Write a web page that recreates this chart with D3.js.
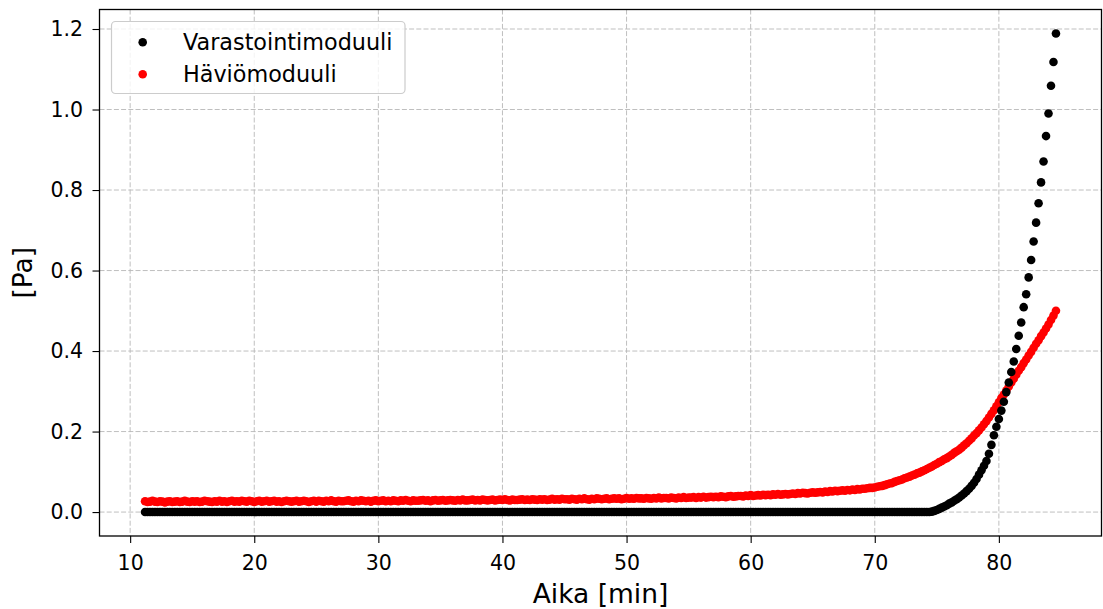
<!DOCTYPE html>
<html lang="fi">
<head>
<meta charset="UTF-8">
<title>Varastointi- ja häviömoduuli</title>
<script src="https://d3js.org/d3.v7.min.js"></script>
<style>
  * { margin: 0; padding: 0; }
  body { background: #ffffff; }
  svg { display: block; font-family: "DejaVu Sans", sans-serif; }
</style>
</head>
<body>
<div class="chart"></div>
<script>
// measurement times [min], one sample every 0.2 min
var time = [
  11.2, 11.4, 11.6, 11.8, 12.0, 12.2, 12.4, 12.6, 12.8, 13.0,
  13.2, 13.4, 13.6, 13.8, 14.0, 14.2, 14.4, 14.6, 14.8, 15.0,
  15.2, 15.4, 15.6, 15.8, 16.0, 16.2, 16.4, 16.6, 16.8, 17.0,
  17.2, 17.4, 17.6, 17.8, 18.0, 18.2, 18.4, 18.6, 18.8, 19.0,
  19.2, 19.4, 19.6, 19.8, 20.0, 20.2, 20.4, 20.6, 20.8, 21.0,
  21.2, 21.4, 21.6, 21.8, 22.0, 22.2, 22.4, 22.6, 22.8, 23.0,
  23.2, 23.4, 23.6, 23.8, 24.0, 24.2, 24.4, 24.6, 24.8, 25.0,
  25.2, 25.4, 25.6, 25.8, 26.0, 26.2, 26.4, 26.6, 26.8, 27.0,
  27.2, 27.4, 27.6, 27.8, 28.0, 28.2, 28.4, 28.6, 28.8, 29.0,
  29.2, 29.4, 29.6, 29.8, 30.0, 30.2, 30.4, 30.6, 30.8, 31.0,
  31.2, 31.4, 31.6, 31.8, 32.0, 32.2, 32.4, 32.6, 32.8, 33.0,
  33.2, 33.4, 33.6, 33.8, 34.0, 34.2, 34.4, 34.6, 34.8, 35.0,
  35.2, 35.4, 35.6, 35.8, 36.0, 36.2, 36.4, 36.6, 36.8, 37.0,
  37.2, 37.4, 37.6, 37.8, 38.0, 38.2, 38.4, 38.6, 38.8, 39.0,
  39.2, 39.4, 39.6, 39.8, 40.0, 40.2, 40.4, 40.6, 40.8, 41.0,
  41.2, 41.4, 41.6, 41.8, 42.0, 42.2, 42.4, 42.6, 42.8, 43.0,
  43.2, 43.4, 43.6, 43.8, 44.0, 44.2, 44.4, 44.6, 44.8, 45.0,
  45.2, 45.4, 45.6, 45.8, 46.0, 46.2, 46.4, 46.6, 46.8, 47.0,
  47.2, 47.4, 47.6, 47.8, 48.0, 48.2, 48.4, 48.6, 48.8, 49.0,
  49.2, 49.4, 49.6, 49.8, 50.0, 50.2, 50.4, 50.6, 50.8, 51.0,
  51.2, 51.4, 51.6, 51.8, 52.0, 52.2, 52.4, 52.6, 52.8, 53.0,
  53.2, 53.4, 53.6, 53.8, 54.0, 54.2, 54.4, 54.6, 54.8, 55.0,
  55.2, 55.4, 55.6, 55.8, 56.0, 56.2, 56.4, 56.6, 56.8, 57.0,
  57.2, 57.4, 57.6, 57.8, 58.0, 58.2, 58.4, 58.6, 58.8, 59.0,
  59.2, 59.4, 59.6, 59.8, 60.0, 60.2, 60.4, 60.6, 60.8, 61.0,
  61.2, 61.4, 61.6, 61.8, 62.0, 62.2, 62.4, 62.6, 62.8, 63.0,
  63.2, 63.4, 63.6, 63.8, 64.0, 64.2, 64.4, 64.6, 64.8, 65.0,
  65.2, 65.4, 65.6, 65.8, 66.0, 66.2, 66.4, 66.6, 66.8, 67.0,
  67.2, 67.4, 67.6, 67.8, 68.0, 68.2, 68.4, 68.6, 68.8, 69.0,
  69.2, 69.4, 69.6, 69.8, 70.0,
  70.2, 70.4, 70.6, 70.8, 71.0, 71.2, 71.4, 71.6, 71.8, 72.0,
  72.2, 72.4, 72.6, 72.8, 73.0, 73.2, 73.4, 73.6, 73.8, 74.0,
  74.2, 74.4, 74.6, 74.8, 75.0, 75.2, 75.4, 75.6, 75.8, 76.0,
  76.2, 76.4, 76.6, 76.8, 77.0, 77.2, 77.4, 77.6, 77.8, 78.0,
  78.2, 78.4, 78.6, 78.8, 79.0, 79.2, 79.4, 79.6, 79.8, 80.0,
  80.2, 80.4, 80.6, 80.8, 81.0, 81.2, 81.4, 81.6, 81.8, 82.0,
  82.2, 82.4, 82.6, 82.8, 83.0, 83.2, 83.4, 83.6, 83.8, 84.0,
  84.2, 84.4, 84.6
];

// storage modulus [Pa] (black)
var storage = [
  0, 0, 0, 0, 0, 0, 0, 0, 0, 0,
  0, 0, 0, 0, 0, 0, 0, 0, 0, 0,
  0, 0, 0, 0, 0, 0, 0, 0, 0, 0,
  0, 0, 0, 0, 0, 0, 0, 0, 0, 0,
  0, 0, 0, 0, 0, 0, 0, 0, 0, 0,
  0, 0, 0, 0, 0, 0, 0, 0, 0, 0,
  0, 0, 0, 0, 0, 0, 0, 0, 0, 0,
  0, 0, 0, 0, 0, 0, 0, 0, 0, 0,
  0, 0, 0, 0, 0, 0, 0, 0, 0, 0,
  0, 0, 0, 0, 0, 0, 0, 0, 0, 0,
  0, 0, 0, 0, 0, 0, 0, 0, 0, 0,
  0, 0, 0, 0, 0, 0, 0, 0, 0, 0,
  0, 0, 0, 0, 0, 0, 0, 0, 0, 0,
  0, 0, 0, 0, 0, 0, 0, 0, 0, 0,
  0, 0, 0, 0, 0, 0, 0, 0, 0, 0,
  0, 0, 0, 0, 0, 0, 0, 0, 0, 0,
  0, 0, 0, 0, 0, 0, 0, 0, 0, 0,
  0, 0, 0, 0, 0, 0, 0, 0, 0, 0,
  0, 0, 0, 0, 0, 0, 0, 0, 0, 0,
  0, 0, 0, 0, 0, 0, 0, 0, 0, 0,
  0, 0, 0, 0, 0, 0, 0, 0, 0, 0,
  0, 0, 0, 0, 0, 0, 0, 0, 0, 0,
  0, 0, 0, 0, 0, 0, 0, 0, 0, 0,
  0, 0, 0, 0, 0, 0, 0, 0, 0, 0,
  0, 0, 0, 0, 0, 0, 0, 0, 0, 0,
  0, 0, 0, 0, 0, 0, 0, 0, 0, 0,
  0, 0, 0, 0, 0, 0, 0, 0, 0, 0,
  0, 0, 0, 0, 0, 0, 0, 0, 0, 0,
  0, 0, 0, 0, 0, 0, 0, 0, 0, 0,
  0, 0, 0, 0, 0,
  0, 0, 0, 0, 0, 0, 0, 0, 0, 0,
  0, 0, 0, 0, 0, 0, 0, 0, 0, 0,
  0, 0, 0.001, 0.003, 0.005, 0.008, 0.011, 0.014, 0.017, 0.021,
  0.024, 0.028, 0.032, 0.036, 0.041, 0.046, 0.052, 0.058, 0.065, 0.073,
  0.082, 0.093, 0.104, 0.115, 0.127, 0.145, 0.167, 0.191, 0.212, 0.231,
  0.252, 0.274, 0.298, 0.322, 0.348, 0.374, 0.405, 0.438, 0.471, 0.509,
  0.541, 0.583, 0.626, 0.672, 0.719, 0.767, 0.819, 0.871, 0.934, 0.990,
  1.059, 1.118, 1.189
];

// loss modulus [Pa] (red)
var loss = [
  0.027, 0.025, 0.026, 0.028, 0.026, 0.025, 0.027, 0.026, 0.024, 0.026,
  0.027, 0.025, 0.026, 0.027, 0.025, 0.026, 0.028, 0.026, 0.025, 0.027,
  0.026, 0.027, 0.025, 0.026, 0.028, 0.027, 0.026, 0.025, 0.027, 0.026,
  0.028, 0.026, 0.027, 0.025, 0.027, 0.028, 0.026, 0.027, 0.026, 0.028,
  0.027, 0.026, 0.028, 0.027, 0.025, 0.027, 0.028, 0.026, 0.027, 0.028,
  0.026, 0.027, 0.028, 0.026, 0.027, 0.025, 0.027, 0.028, 0.027, 0.026,
  0.027, 0.028, 0.026, 0.027, 0.028, 0.027, 0.025, 0.027, 0.028, 0.026,
  0.028, 0.027, 0.026, 0.028, 0.027, 0.029, 0.027, 0.026, 0.028, 0.027,
  0.027, 0.028, 0.029, 0.027, 0.026, 0.028, 0.027, 0.029, 0.028, 0.027,
  0.028, 0.026, 0.028, 0.029, 0.027, 0.028, 0.029, 0.027, 0.028, 0.027,
  0.029, 0.028, 0.027, 0.029, 0.028, 0.030, 0.028, 0.027, 0.029, 0.028,
  0.028, 0.029, 0.030, 0.028, 0.029, 0.027, 0.029, 0.030, 0.028, 0.029,
  0.030, 0.028, 0.029, 0.030, 0.029, 0.028, 0.030, 0.029, 0.031, 0.029,
  0.029, 0.030, 0.031, 0.029, 0.030, 0.029, 0.031, 0.030, 0.029, 0.030,
  0.031, 0.029, 0.030, 0.031, 0.030, 0.032, 0.030, 0.029, 0.031, 0.030,
  0.030, 0.031, 0.032, 0.030, 0.031, 0.030, 0.032, 0.031, 0.030, 0.032,
  0.031, 0.032, 0.030, 0.031, 0.033, 0.031, 0.032, 0.031, 0.033, 0.032,
  0.032, 0.031, 0.033, 0.032, 0.031, 0.033, 0.032, 0.034, 0.032, 0.031,
  0.033, 0.032, 0.034, 0.033, 0.032, 0.033, 0.034, 0.032, 0.033, 0.034,
  0.033, 0.034, 0.032, 0.033, 0.035, 0.033, 0.034, 0.033, 0.035, 0.034,
  0.034, 0.033, 0.035, 0.034, 0.033, 0.035, 0.034, 0.036, 0.034, 0.035,
  0.035, 0.034, 0.036, 0.035, 0.034, 0.036, 0.035, 0.037, 0.035, 0.036,
  0.036, 0.037, 0.035, 0.037, 0.036, 0.038, 0.036, 0.037, 0.038, 0.037,
  0.038, 0.037, 0.039, 0.038, 0.037, 0.039, 0.040, 0.038, 0.039, 0.040,
  0.040, 0.039, 0.041, 0.040, 0.042, 0.040, 0.041, 0.042, 0.041, 0.043,
  0.042, 0.043, 0.042, 0.044, 0.043, 0.045, 0.043, 0.044, 0.045, 0.044,
  0.045, 0.046, 0.045, 0.047, 0.046, 0.048, 0.047, 0.046, 0.048, 0.049,
  0.048, 0.049, 0.050, 0.049, 0.051, 0.050, 0.052, 0.051, 0.053, 0.052,
  0.053, 0.054, 0.053, 0.055, 0.054, 0.056, 0.055, 0.057, 0.056, 0.058,
  0.058, 0.059, 0.060, 0.060, 0.061,
  0.063, 0.064, 0.065, 0.067, 0.069, 0.071, 0.072, 0.075, 0.077, 0.079,
  0.081, 0.084, 0.086, 0.088, 0.091, 0.093, 0.096, 0.098, 0.101, 0.104,
  0.107, 0.110, 0.113, 0.117, 0.120, 0.124, 0.127, 0.131, 0.134, 0.138,
  0.142, 0.147, 0.151, 0.155, 0.160, 0.166, 0.171, 0.177, 0.183, 0.190,
  0.196, 0.203, 0.210, 0.218, 0.226, 0.235, 0.244, 0.253, 0.263, 0.273,
  0.283, 0.292, 0.302, 0.312, 0.322, 0.331, 0.341, 0.351, 0.360, 0.370,
  0.379, 0.389, 0.398, 0.408, 0.418, 0.427, 0.437, 0.446, 0.456, 0.466,
  0.477, 0.488, 0.500
];

var seriesNames = ['Varastointimoduuli', 'Häviömoduuli'];
var seriesColors = ['#000000', '#ff0000'];
var xTicks = [10, 20, 30, 40, 50, 60, 70, 80];
var yTicks = [0.0, 0.2, 0.4, 0.6, 0.8, 1.0, 1.2];
var xLabel = 'Aika [min]';
var yLabel = '[Pa]';

var width = 1103, height = 609;
// plot area edges (window.top is reserved, so own names)
var padLeft = 99.5, padRight = 1101.5, padTop = 9.5, padBottom = 536;
var dotR = 4.3;

var svg = d3.select('.chart')
  .append('svg')
  .attr('width', width)
  .attr('height', height);

// matplotlib style 5% margins
var xMin = d3.min(time), xMax = d3.max(time);
var xPad = (xMax - xMin) * 0.05;
var yMin = Math.min(d3.min(storage), d3.min(loss));
var yMax = Math.max(d3.max(storage), d3.max(loss));
var yPad = (yMax - yMin) * 0.05;

var xScale = d3.scaleLinear()
  .domain([xMin - xPad, xMax + xPad])
  .range([padLeft, padRight]);
var yScale = d3.scaleLinear()
  .domain([yMin - yPad, yMax + yPad])
  .range([padBottom, padTop]);

// grid
var grid = svg.append('g')
  .attr('stroke', '#b8b8b8')
  .attr('stroke-width', 0.9)
  .attr('stroke-dasharray', '5,2.2');
grid.selectAll('.vgrid')
  .data(xTicks)
  .enter()
  .append('line')
  .attr('class', 'vgrid')
  .attr('x1', function (d) { return xScale(d); })
  .attr('x2', function (d) { return xScale(d); })
  .attr('y1', padTop)
  .attr('y2', padBottom);
grid.selectAll('.hgrid')
  .data(yTicks)
  .enter()
  .append('line')
  .attr('class', 'hgrid')
  .attr('x1', padLeft)
  .attr('x2', padRight)
  .attr('y1', function (d) { return yScale(d); })
  .attr('y2', function (d) { return yScale(d); });

// scatter points: red first, black on top
var plot = svg.append('g');
plot.selectAll('.loss')
  .data(time)
  .enter()
  .append('circle')
  .attr('class', 'loss')
  .attr('cx', function (d) { return xScale(d); })
  .attr('cy', function (d, i) { return yScale(loss[i]); })
  .attr('r', dotR)
  .attr('fill', seriesColors[1]);
plot.selectAll('.storage')
  .data(time)
  .enter()
  .append('circle')
  .attr('class', 'storage')
  .attr('cx', function (d) { return xScale(d); })
  .attr('cy', function (d, i) { return yScale(storage[i]); })
  .attr('r', dotR)
  .attr('fill', seriesColors[0]);

// axes
var xAxis = d3.axisBottom(xScale)
  .tickValues(xTicks)
  .tickFormat(d3.format('d'))
  .tickSize(7)
  .tickPadding(12.4);
var yAxis = d3.axisLeft(yScale)
  .tickValues(yTicks)
  .tickFormat(d3.format('.1f'))
  .tickSize(7)
  .tickPadding(9.5);

var gx = svg.append('g')
  .attr('transform', 'translate(0,' + padBottom + ')')
  .call(xAxis);
var gy = svg.append('g')
  .attr('transform', 'translate(' + padLeft + ',0)')
  .call(yAxis);
[gx, gy].forEach(function (g) {
  g.select('.domain').remove();
  g.selectAll('.tick line').attr('stroke', '#000').attr('stroke-width', 1.1);
  g.selectAll('.tick text')
    .attr('fill', '#000')
    .style('font-size', '20.5px')
    .style('font-family', '"DejaVu Sans", sans-serif');
});

// frame
svg.append('rect')
  .attr('x', padLeft)
  .attr('y', padTop)
  .attr('width', padRight - padLeft)
  .attr('height', padBottom - padTop)
  .attr('fill', 'none')
  .attr('stroke', '#000')
  .attr('stroke-width', 1.3);

// axis labels
svg.append('text')
  .attr('x', (padLeft + padRight) / 2)
  .attr('y', 603)
  .attr('text-anchor', 'middle')
  .style('font-size', '26.5px')
  .text(xLabel);
svg.append('text')
  .attr('transform', 'translate(23,' + (padTop + padBottom) / 2 + ') rotate(-90)')
  .attr('text-anchor', 'middle')
  .attr('dy', '0.35em')
  .style('font-size', '26.5px')
  .text(yLabel);

// legend
var legend = svg.append('g');
legend.append('rect')
  .attr('x', 111.5)
  .attr('y', 21.5)
  .attr('width', 293.5)
  .attr('height', 72)
  .attr('rx', 4)
  .attr('fill', '#ffffff')
  .attr('fill-opacity', 0.8)
  .attr('stroke', '#cccccc')
  .attr('stroke-width', 1.2);
var items = legend.selectAll('.item')
  .data(seriesNames)
  .enter()
  .append('g')
  .attr('class', 'item')
  .attr('transform', function (d, i) { return 'translate(0,' + (42.3 + i * 32) + ')'; });
items.append('circle')
  .attr('cx', 142.7)
  .attr('cy', 0)
  .attr('r', dotR)
  .attr('fill', function (d, i) { return seriesColors[i]; });
items.append('text')
  .attr('x', 183)
  .attr('dy', '0.36em')
  .style('font-size', '22.3px')
  .text(function (d) { return d; });
</script>
</body>
</html>
